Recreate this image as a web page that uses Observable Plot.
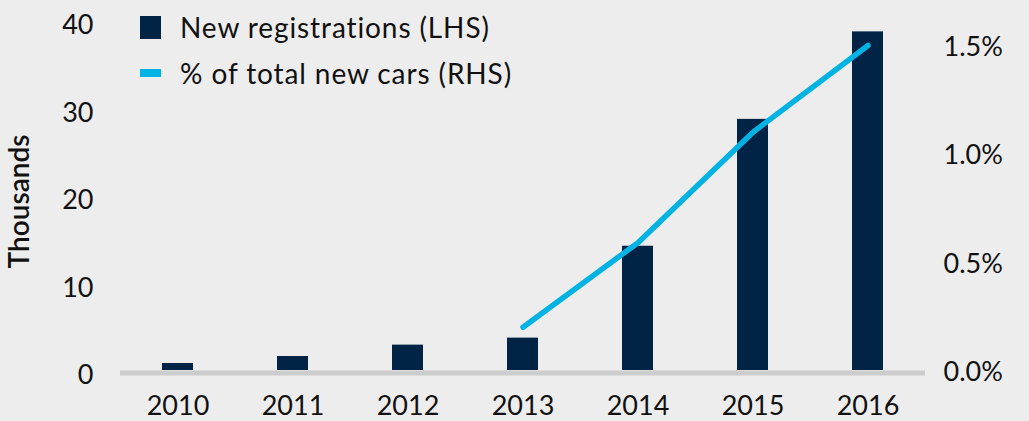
<!DOCTYPE html>
<html>
<head>
<meta charset="utf-8">
<script src="https://cdn.jsdelivr.net/npm/d3@7"></script>
<script src="https://cdn.jsdelivr.net/npm/@observablehq/plot@0.6"></script>
<style>
  html, body { margin: 0; padding: 0; background: #ededed; }
  #wrap { position: relative; width: 1029px; height: 421px; font-family: Lato, sans-serif; }
  #legend { position: absolute; left: 140px; top: 4px; font-size: 28px; letter-spacing: 0.9px; color: #111; }
  .row { display: flex; align-items: center; height: 46px; }
  .sw { width: 21px; margin-right: 19px; }
</style>
</head>
<body>
<div id="wrap">
  <div id="chart"></div>
  <div id="legend"></div>
</div>
<script>
const years = ["2010", "2011", "2012", "2013", "2014", "2015", "2016"];
const registrations = [0.8, 1.6, 2.9, 3.7, 14.2, 28.7, 38.7]; // thousands (LHS)
const shareYears = ["2013", "2014", "2015", "2016"];
const shareOfNewCars = [0.2, 0.59, 1.1, 1.5]; // % (RHS)
const leftTicks = [0, 10, 20, 30, 40];
const rightTicks = [0, 0.5, 1.0, 1.5];
const seriesNames = ["New registrations (LHS)", "% of total new cars (RHS)"];
const barColor = "#012346";
const lineColor = "#00b3e3";

// right axis: 1.5% aligns with ~37.14 thousand on the left scale
const k = 37.14 / 1.5;

const bars = years.map((y, i) => ({year: y, value: registrations[i]}));
const line = shareYears.map((y, i) => ({year: y, value: shareOfNewCars[i] * k}));

const chart = Plot.plot({
  width: 1029,
  height: 421,
  marginLeft: 120,
  marginRight: 104,
  marginTop: 20,
  marginBottom: 51,
  style: {background: "transparent", fontFamily: "Lato, sans-serif", fontSize: "27px", color: "#111"},
  x: {domain: years, paddingInner: 0.73, paddingOuter: 0.365, label: null},
  y: {domain: [0, 40], label: null},
  marks: [
    Plot.barY(bars, {x: "year", y: "value", fill: barColor}),
    Plot.ruleY([0], {stroke: "#cccccc", strokeWidth: 5, dy: 2.5}),
    Plot.line(line, {x: "year", y: "value", stroke: lineColor, strokeWidth: 5.5}),
    Plot.axisX({tickSize: 0, tickPadding: 25, fontSize: 27, label: null}),
    Plot.axisY(leftTicks, {anchor: "left", tickSize: 0, tickPadding: 27, dy: 5, fontSize: 27, label: null}),
    Plot.axisY(rightTicks.map(d => d * k), {anchor: "right", tickSize: 0, tickPadding: 18, dy: 2, fontSize: 27, label: null,
      tickFormat: d => (d / k).toFixed(1) + "%"}),
    Plot.text(["Thousands"], {frameAnchor: "left", textAnchor: "middle", dx: -100, dy: 6, rotate: -90, fontSize: 28, fontWeight: 600, fill: "#111"})
  ]
});
document.getElementById("chart").appendChild(chart);

const legend = document.getElementById("legend");
legend.innerHTML = `
  <div class="row"><span class="sw" style="height:23px;background:${barColor}"></span>${seriesNames[0]}</div>
  <div class="row"><span class="sw" style="height:8px;background:${lineColor}"></span>${seriesNames[1]}</div>`;
</script>
</body>
</html>
